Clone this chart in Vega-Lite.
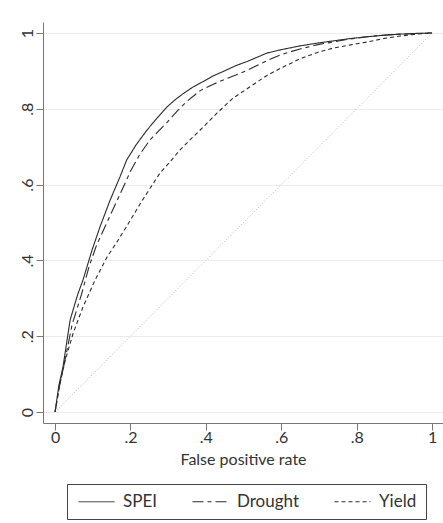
{
  "$schema": "https://vega.github.io/schema/vega-lite/v6.json",
  "autosize": {"type": "none"},
  "width": 400,
  "height": 401,
  "padding": {"left": 43, "top": 22, "right": 0, "bottom": 100},
  "background": "white",
  "config": {
    "view": {"stroke": null},
    "font": "Lato",
    "axis": {
      "domainColor": "#777",
      "tickColor": "#777",
      "labelColor": "#333",
      "titleColor": "#333",
      "labelFont": "Lato",
      "titleFont": "Lato",
      "labelFontSize": 16,
      "titleFontSize": 16,
      "titleFontWeight": "normal",
      "tickSize": 7,
      "gridColor": "#ececec"
    },
    "legend": {
      "labelFont": "Lato",
      "labelFontSize": 17,
      "labelColor": "#333"
    }
  },
  "datasets": {
    "diag": [{"x": 0, "y": 0}, {"x": 1, "y": 1}],
    "roc": [
      {"model": "SPEI", "fpr": 0, "tpr": 0},
      {"model": "SPEI", "fpr": 0.01, "tpr": 0.07},
      {"model": "SPEI", "fpr": 0.021, "tpr": 0.119},
      {"model": "SPEI", "fpr": 0.04, "tpr": 0.243},
      {"model": "SPEI", "fpr": 0.06, "tpr": 0.31},
      {"model": "SPEI", "fpr": 0.074, "tpr": 0.348},
      {"model": "SPEI", "fpr": 0.098, "tpr": 0.427},
      {"model": "SPEI", "fpr": 0.119, "tpr": 0.488},
      {"model": "SPEI", "fpr": 0.146, "tpr": 0.559},
      {"model": "SPEI", "fpr": 0.172, "tpr": 0.62},
      {"model": "SPEI", "fpr": 0.19, "tpr": 0.665},
      {"model": "SPEI", "fpr": 0.215, "tpr": 0.705},
      {"model": "SPEI", "fpr": 0.244, "tpr": 0.744},
      {"model": "SPEI", "fpr": 0.27, "tpr": 0.775},
      {"model": "SPEI", "fpr": 0.297, "tpr": 0.805},
      {"model": "SPEI", "fpr": 0.32, "tpr": 0.825},
      {"model": "SPEI", "fpr": 0.34, "tpr": 0.84},
      {"model": "SPEI", "fpr": 0.365, "tpr": 0.857},
      {"model": "SPEI", "fpr": 0.393, "tpr": 0.872},
      {"model": "SPEI", "fpr": 0.42, "tpr": 0.887},
      {"model": "SPEI", "fpr": 0.456, "tpr": 0.903},
      {"model": "SPEI", "fpr": 0.48, "tpr": 0.914},
      {"model": "SPEI", "fpr": 0.51, "tpr": 0.925},
      {"model": "SPEI", "fpr": 0.562, "tpr": 0.947},
      {"model": "SPEI", "fpr": 0.6, "tpr": 0.956},
      {"model": "SPEI", "fpr": 0.65, "tpr": 0.966},
      {"model": "SPEI", "fpr": 0.7, "tpr": 0.974},
      {"model": "SPEI", "fpr": 0.737, "tpr": 0.979},
      {"model": "SPEI", "fpr": 0.78, "tpr": 0.985},
      {"model": "SPEI", "fpr": 0.827, "tpr": 0.99},
      {"model": "SPEI", "fpr": 0.87, "tpr": 0.994},
      {"model": "SPEI", "fpr": 0.915, "tpr": 0.997},
      {"model": "SPEI", "fpr": 0.96, "tpr": 0.999},
      {"model": "SPEI", "fpr": 1, "tpr": 1},
      {"model": "Drought", "fpr": 0, "tpr": 0},
      {"model": "Drought", "fpr": 0.012, "tpr": 0.07},
      {"model": "Drought", "fpr": 0.025, "tpr": 0.13},
      {"model": "Drought", "fpr": 0.045, "tpr": 0.23},
      {"model": "Drought", "fpr": 0.07, "tpr": 0.31},
      {"model": "Drought", "fpr": 0.09, "tpr": 0.383},
      {"model": "Drought", "fpr": 0.11, "tpr": 0.44},
      {"model": "Drought", "fpr": 0.133, "tpr": 0.49},
      {"model": "Drought", "fpr": 0.165, "tpr": 0.559},
      {"model": "Drought", "fpr": 0.2, "tpr": 0.635},
      {"model": "Drought", "fpr": 0.225, "tpr": 0.68},
      {"model": "Drought", "fpr": 0.252, "tpr": 0.718},
      {"model": "Drought", "fpr": 0.275, "tpr": 0.742},
      {"model": "Drought", "fpr": 0.297, "tpr": 0.764},
      {"model": "Drought", "fpr": 0.325, "tpr": 0.795},
      {"model": "Drought", "fpr": 0.35, "tpr": 0.82},
      {"model": "Drought", "fpr": 0.385, "tpr": 0.848},
      {"model": "Drought", "fpr": 0.42, "tpr": 0.865},
      {"model": "Drought", "fpr": 0.456, "tpr": 0.88},
      {"model": "Drought", "fpr": 0.49, "tpr": 0.893},
      {"model": "Drought", "fpr": 0.51, "tpr": 0.902},
      {"model": "Drought", "fpr": 0.562, "tpr": 0.927},
      {"model": "Drought", "fpr": 0.6, "tpr": 0.943},
      {"model": "Drought", "fpr": 0.65, "tpr": 0.958},
      {"model": "Drought", "fpr": 0.7, "tpr": 0.97},
      {"model": "Drought", "fpr": 0.737, "tpr": 0.976},
      {"model": "Drought", "fpr": 0.78, "tpr": 0.984},
      {"model": "Drought", "fpr": 0.827, "tpr": 0.99},
      {"model": "Drought", "fpr": 0.87, "tpr": 0.994},
      {"model": "Drought", "fpr": 0.915, "tpr": 0.997},
      {"model": "Drought", "fpr": 1, "tpr": 1},
      {"model": "Yield", "fpr": 0, "tpr": 0},
      {"model": "Yield", "fpr": 0.012, "tpr": 0.07},
      {"model": "Yield", "fpr": 0.027, "tpr": 0.137},
      {"model": "Yield", "fpr": 0.048, "tpr": 0.208},
      {"model": "Yield", "fpr": 0.074, "tpr": 0.277},
      {"model": "Yield", "fpr": 0.106, "tpr": 0.348},
      {"model": "Yield", "fpr": 0.138, "tpr": 0.409},
      {"model": "Yield", "fpr": 0.165, "tpr": 0.45},
      {"model": "Yield", "fpr": 0.19, "tpr": 0.49},
      {"model": "Yield", "fpr": 0.225, "tpr": 0.548},
      {"model": "Yield", "fpr": 0.244, "tpr": 0.578},
      {"model": "Yield", "fpr": 0.278, "tpr": 0.63},
      {"model": "Yield", "fpr": 0.305, "tpr": 0.66},
      {"model": "Yield", "fpr": 0.33, "tpr": 0.69},
      {"model": "Yield", "fpr": 0.36, "tpr": 0.72},
      {"model": "Yield", "fpr": 0.385, "tpr": 0.744},
      {"model": "Yield", "fpr": 0.43, "tpr": 0.789},
      {"model": "Yield", "fpr": 0.472, "tpr": 0.828},
      {"model": "Yield", "fpr": 0.517, "tpr": 0.858},
      {"model": "Yield", "fpr": 0.562, "tpr": 0.888},
      {"model": "Yield", "fpr": 0.6, "tpr": 0.908},
      {"model": "Yield", "fpr": 0.65, "tpr": 0.932},
      {"model": "Yield", "fpr": 0.7, "tpr": 0.95},
      {"model": "Yield", "fpr": 0.737, "tpr": 0.96},
      {"model": "Yield", "fpr": 0.78, "tpr": 0.968},
      {"model": "Yield", "fpr": 0.827, "tpr": 0.976},
      {"model": "Yield", "fpr": 0.87, "tpr": 0.985},
      {"model": "Yield", "fpr": 0.915, "tpr": 0.992},
      {"model": "Yield", "fpr": 0.96, "tpr": 0.997},
      {"model": "Yield", "fpr": 1, "tpr": 1}
    ]
  },
  "layer": [
    {
      "data": {"name": "diag"},
      "mark": {"type": "line", "color": "#b5b5b5", "strokeDash": [1, 2], "strokeWidth": 1},
      "encoding": {
        "x": {"field": "x", "type": "quantitative", "scale": {"domain": [-0.032, 1.029], "nice": false, "zero": false}},
        "y": {"field": "y", "type": "quantitative", "scale": {"domain": [-0.029, 1.029], "nice": false, "zero": false}}
      }
    },
    {
      "data": {"name": "roc"},
      "mark": {"type": "line", "color": "#2b2b2b", "strokeWidth": 1.1},
      "encoding": {
        "x": {
          "field": "fpr", "type": "quantitative",
          "scale": {"domain": [-0.032, 1.029], "nice": false, "zero": false},
          "axis": {
            "title": "False positive rate",
            "values": [0, 0.2, 0.4, 0.6, 0.8, 1],
            "labelExpr": "datum.value == 0 ? '0' : datum.value == 1 ? '1' : replace(format(datum.value, '.1f'), '0.', '.')",
            "grid": false,
            "labelPadding": -1,
            "titlePadding": 6
          }
        },
        "y": {
          "field": "tpr", "type": "quantitative",
          "scale": {"domain": [-0.029, 1.029], "nice": false, "zero": false},
          "axis": {
            "title": null,
            "values": [0, 0.2, 0.4, 0.6, 0.8, 1],
            "labelExpr": "datum.value == 0 ? '0' : datum.value == 1 ? '1' : replace(format(datum.value, '.1f'), '0.', '.')",
            "grid": true,
            "labelAngle": -90,
            "labelAlign": "center",
            "labelBaseline": "bottom",
            "labelPadding": 1
          }
        },
        "strokeDash": {
          "field": "model", "type": "nominal",
          "scale": {"domain": ["SPEI", "Drought", "Yield"], "range": [[1, 0], [11, 4, 4, 4], [4, 3]]},
          "legend": {
            "title": null,
            "orient": "none",
            "legendX": 24,
            "legendY": 462,
            "direction": "horizontal",
            "strokeColor": "#444",
            "padding": 9,
            "symbolType": "M-1,0H5",
            "symbolSize": 144,
            "symbolStrokeColor": "#2b2b2b",
            "symbolStrokeWidth": 1,
            "labelOffset": 30,
            "columnPadding": 32
          }
        }
      }
    }
  ]
}
